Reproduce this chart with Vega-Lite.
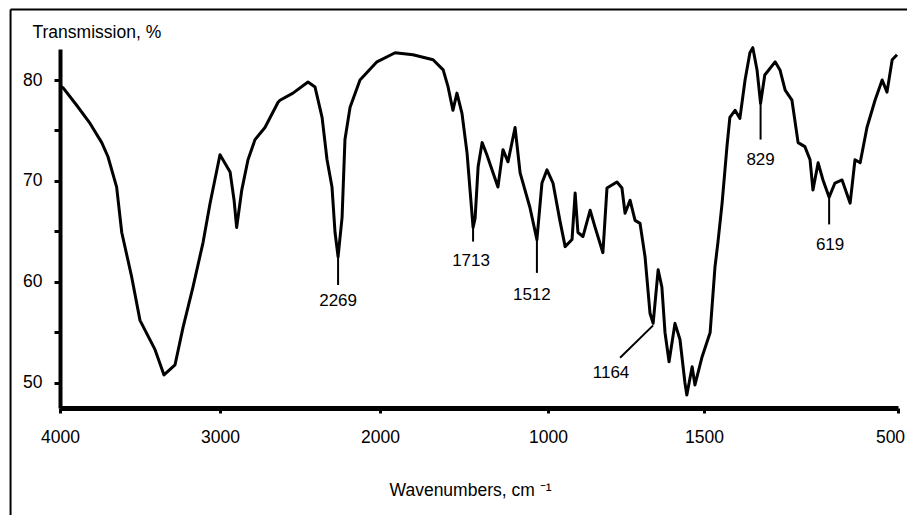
{
  "$schema": "https://vega.github.io/schema/vega-lite/v6.json",
  "width": 838,
  "height": 359,
  "autosize": {"type": "none"},
  "padding": {"left": 60, "top": 49, "right": 9, "bottom": 107},
  "background": "white",
  "config": {
    "view": {"stroke": null},
    "font": "Liberation Sans",
    "axis": {
      "grid": false,
      "domainColor": "black",
      "tickColor": "black",
      "labelColor": "black",
      "titleColor": "black",
      "labelFont": "Liberation Sans",
      "titleFont": "Liberation Sans",
      "titleFontWeight": "normal"
    }
  },
  "datasets": {
    "spectrum": [
      {"wn": 4000, "t": 79.4}, {"wn": 3979, "t": 79.2}, {"wn": 3896, "t": 77.5}, {"wn": 3812, "t": 75.7},
      {"wn": 3739, "t": 73.8}, {"wn": 3700, "t": 72.4}, {"wn": 3646, "t": 69.4}, {"wn": 3614, "t": 64.9},
      {"wn": 3552, "t": 60.5}, {"wn": 3500, "t": 56.2}, {"wn": 3406, "t": 53.3}, {"wn": 3350, "t": 50.8},
      {"wn": 3281, "t": 51.8}, {"wn": 3231, "t": 55.5}, {"wn": 3169, "t": 59.5}, {"wn": 3106, "t": 63.9},
      {"wn": 3062, "t": 67.8}, {"wn": 3000, "t": 72.6}, {"wn": 2937, "t": 70.9}, {"wn": 2912, "t": 68.1},
      {"wn": 2896, "t": 65.4}, {"wn": 2864, "t": 69.1}, {"wn": 2825, "t": 72.1}, {"wn": 2781, "t": 74.1},
      {"wn": 2719, "t": 75.3}, {"wn": 2637, "t": 77.8}, {"wn": 2625, "t": 78.0}, {"wn": 2544, "t": 78.7},
      {"wn": 2450, "t": 79.8}, {"wn": 2406, "t": 79.3}, {"wn": 2362, "t": 76.3}, {"wn": 2331, "t": 72.1},
      {"wn": 2300, "t": 69.4}, {"wn": 2281, "t": 64.9}, {"wn": 2262, "t": 62.5}, {"wn": 2237, "t": 66.4},
      {"wn": 2219, "t": 74.1}, {"wn": 2187, "t": 77.3}, {"wn": 2125, "t": 80.0}, {"wn": 2019, "t": 81.8},
      {"wn": 1955, "t": 82.7}, {"wn": 1902, "t": 82.5}, {"wn": 1842, "t": 82.0}, {"wn": 1812, "t": 81.0},
      {"wn": 1798, "t": 79.4}, {"wn": 1783, "t": 77.0}, {"wn": 1771, "t": 78.7}, {"wn": 1756, "t": 76.7},
      {"wn": 1741, "t": 72.8}, {"wn": 1732, "t": 69.1}, {"wn": 1723, "t": 65.4}, {"wn": 1717, "t": 66.3},
      {"wn": 1708, "t": 71.4}, {"wn": 1696, "t": 73.8}, {"wn": 1682, "t": 72.6}, {"wn": 1649, "t": 69.4},
      {"wn": 1634, "t": 73.1}, {"wn": 1619, "t": 71.9}, {"wn": 1598, "t": 75.3}, {"wn": 1583, "t": 70.8},
      {"wn": 1554, "t": 67.4}, {"wn": 1533, "t": 64.2}, {"wn": 1518, "t": 69.8}, {"wn": 1503, "t": 71.1},
      {"wn": 1484, "t": 69.8}, {"wn": 1462, "t": 66.1}, {"wn": 1445, "t": 63.5}, {"wn": 1423, "t": 64.2},
      {"wn": 1413, "t": 68.8}, {"wn": 1404, "t": 64.9}, {"wn": 1388, "t": 64.5}, {"wn": 1365, "t": 67.1},
      {"wn": 1349, "t": 65.4}, {"wn": 1324, "t": 62.9}, {"wn": 1311, "t": 69.3}, {"wn": 1279, "t": 69.9},
      {"wn": 1263, "t": 69.3}, {"wn": 1253, "t": 66.8}, {"wn": 1237, "t": 68.1}, {"wn": 1221, "t": 66.1},
      {"wn": 1205, "t": 65.8}, {"wn": 1189, "t": 62.5}, {"wn": 1173, "t": 56.9}, {"wn": 1163, "t": 55.9},
      {"wn": 1147, "t": 61.2}, {"wn": 1135, "t": 59.5}, {"wn": 1125, "t": 55.0}, {"wn": 1112, "t": 52.1},
      {"wn": 1093, "t": 55.9}, {"wn": 1077, "t": 54.3}, {"wn": 1061, "t": 50.0}, {"wn": 1055, "t": 48.8},
      {"wn": 1038, "t": 51.6}, {"wn": 1029, "t": 49.8}, {"wn": 1006, "t": 52.6}, {"wn": 981, "t": 55.0},
      {"wn": 966, "t": 61.5}, {"wn": 957, "t": 63.9}, {"wn": 944, "t": 67.8}, {"wn": 929, "t": 73.4},
      {"wn": 920, "t": 76.3}, {"wn": 904, "t": 77.0}, {"wn": 889, "t": 76.2}, {"wn": 873, "t": 80.0},
      {"wn": 858, "t": 82.7}, {"wn": 849, "t": 83.2}, {"wn": 836, "t": 81.0}, {"wn": 825, "t": 77.7},
      {"wn": 812, "t": 80.5}, {"wn": 780, "t": 81.8}, {"wn": 765, "t": 81.0}, {"wn": 749, "t": 79.0},
      {"wn": 728, "t": 78.0}, {"wn": 709, "t": 73.8}, {"wn": 688, "t": 73.4}, {"wn": 672, "t": 72.1},
      {"wn": 663, "t": 69.1}, {"wn": 647, "t": 71.8}, {"wn": 632, "t": 70.1}, {"wn": 613, "t": 68.4},
      {"wn": 595, "t": 69.8}, {"wn": 573, "t": 70.1}, {"wn": 548, "t": 67.8}, {"wn": 533, "t": 72.1},
      {"wn": 517, "t": 71.8}, {"wn": 496, "t": 75.3}, {"wn": 471, "t": 78.0}, {"wn": 449, "t": 80.0},
      {"wn": 434, "t": 78.8}, {"wn": 418, "t": 82.0}, {"wn": 403, "t": 82.5}
    ],
    "peaks": [
      {"label": "2269", "x": 2262, "y": 62.5, "x2": 2262, "y2": 59.7, "tx": 2262, "ty": 58.9},
      {"label": "1713", "x": 1723, "y": 65.4, "x2": 1723, "y2": 64.0, "tx": 1729, "ty": 62.9},
      {"label": "1512", "x": 1533, "y": 64.2, "x2": 1533, "y2": 60.9, "tx": 1548, "ty": 59.5},
      {"label": "1164", "x": 1163, "y": 55.7, "x2": 1269, "y2": 52.5, "tx": 1298, "ty": 51.8},
      {"label": "829", "x": 825, "y": 77.7, "x2": 825, "y2": 74.1, "tx": 825, "ty": 72.9},
      {"label": "619", "x": 613, "y": 68.4, "x2": 613, "y2": 65.7, "tx": 610, "ty": 64.5}
    ]
  },
  "layer": [
    {
      "data": {"values": [{}]},
      "mark": {"type": "rule", "color": "black", "strokeWidth": 2, "clip": false},
      "encoding": {
        "x": {"datum": 4309, "type": "quantitative"},
        "y": {"datum": 86.98, "type": "quantitative"},
        "y2": {"datum": 30}
      }
    },
    {
      "data": {"values": [{}]},
      "mark": {"type": "rule", "color": "black", "strokeWidth": 2, "clip": false},
      "encoding": {
        "x": {"datum": 4309, "type": "quantitative"},
        "x2": {"datum": 340},
        "y": {"datum": 86.98, "type": "quantitative"}
      }
    },
    {
      "data": {"name": "spectrum"},
      "mark": {"type": "line", "color": "black", "strokeWidth": 3, "strokeJoin": "round", "clip": false},
      "encoding": {
        "x": {
          "field": "wn",
          "type": "quantitative",
          "sort": null,
          "scale": {"domain": [4000, 3000, 2000, 1500, 1000, 400], "range": [0, 160, 320, 488, 644, 838], "nice": false, "zero": false},
          "axis": {
            "values": [4000, 3000, 2000, 1500, 1000, 400],
            "labelExpr": "datum.value == 1500 ? '1000' : datum.value == 1000 ? '1500' : datum.value == 400 ? '500' : format(datum.value, 'd')",
            "title": "Wavenumbers, cm ⁻¹",
            "titleX": 410,
            "titleY": 87,
            "titleAlign": "center",
            "titleAnchor": "start",
            "titleBaseline": "alphabetic",
            "titleFontSize": 17.5,
            "domainWidth": 5,
            "tickSize": 5,
            "tickWidth": 3,
            "labelPadding": 15,
            "labelFontSize": 17.5,
            "labelOverlap": false,
            "labelBound": false,
            "labelFlush": false,
            "labelOffset": {"condition": {"test": "datum.value == 400", "value": -8}, "value": 0}
          }
        },
        "y": {
          "field": "t",
          "type": "quantitative",
          "scale": {"domain": [47.52, 83.07], "nice": false, "zero": false},
          "axis": {
            "values": [50, 55, 60, 65, 70, 75, 80],
            "labelExpr": "datum.value % 10 == 0 ? datum.label : ''",
            "title": "Transmission, %",
            "titleAngle": 0,
            "titleAlign": "left",
            "titleAnchor": "start",
            "titleBaseline": "alphabetic",
            "titleX": -28,
            "titleY": -12,
            "titleFontSize": 17.5,
            "domainWidth": 4,
            "tickSize": 6,
            "tickWidth": 3,
            "labelPadding": 12,
            "labelFontSize": 17.5
          }
        }
      }
    },
    {
      "data": {"name": "peaks"},
      "mark": {"type": "rule", "color": "black", "strokeWidth": 2},
      "encoding": {
        "x": {"field": "x", "type": "quantitative"},
        "x2": {"field": "x2"},
        "y": {"field": "y", "type": "quantitative"},
        "y2": {"field": "y2"}
      }
    },
    {
      "data": {"name": "peaks"},
      "mark": {"type": "text", "color": "black", "fontSize": 17, "font": "Liberation Sans", "align": "center", "baseline": "top"},
      "encoding": {
        "x": {"field": "tx", "type": "quantitative"},
        "y": {"field": "ty", "type": "quantitative"},
        "text": {"field": "label"}
      }
    }
  ]
}
